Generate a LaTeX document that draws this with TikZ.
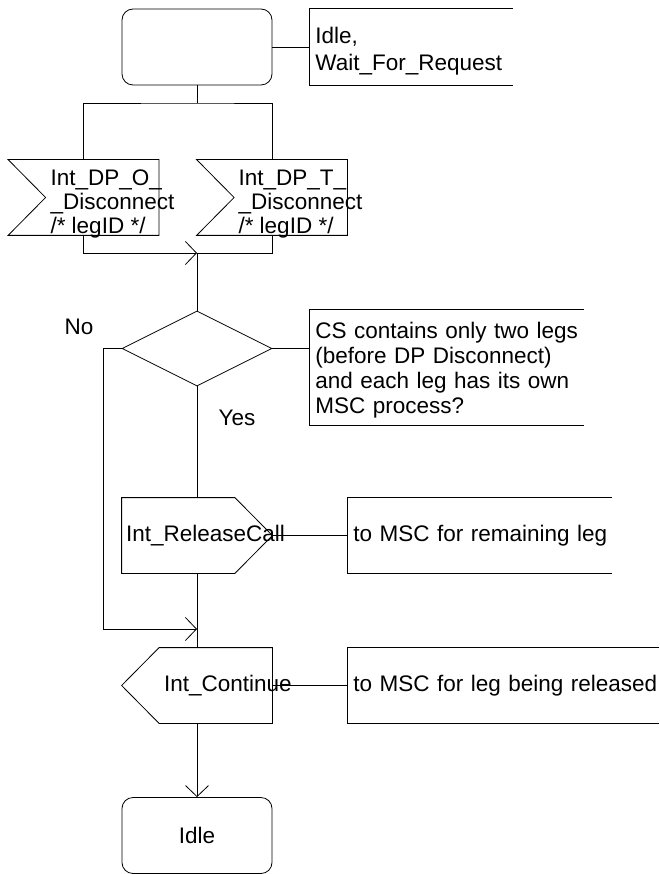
\documentclass[tikz,border=0pt]{standalone}
\usepackage{fontspec}
\setmainfont{Liberation Sans}
\usetikzlibrary{arrows.meta,positioning,shapes.geometric}
\tikzset{
  sdlbox/.style={rectangle, inner sep=0pt, minimum width=150pt, minimum height=75pt},
  sdlstate/.style={draw, rectangle, inner sep=0pt, rounded corners=11pt, minimum width=150pt, minimum height=76pt},
  sdlinput/.style={sdlbox, append after command={\pgfextra{\draw (\tikzlastnode.north west) -- (\tikzlastnode.north east)
      -- (\tikzlastnode.south east) -- (\tikzlastnode.south west) -- ([xshift=37.5pt]\tikzlastnode.west) -- cycle;}}},
  sdlout/.style={sdlbox, append after command={\pgfextra{\draw (\tikzlastnode.north west) -- ([xshift=-37.5pt]\tikzlastnode.north east)
      -- (\tikzlastnode.east) -- ([xshift=-37.5pt]\tikzlastnode.south east) -- (\tikzlastnode.south west) -- cycle;}}},
  sdlcont/.style={sdlbox, append after command={\pgfextra{\draw (\tikzlastnode.west) -- ([xshift=37.5pt]\tikzlastnode.north west)
      -- (\tikzlastnode.north east) -- (\tikzlastnode.south east) -- ([xshift=37.5pt]\tikzlastnode.south west) -- cycle;}}},
  sdldec/.style={draw, diamond, inner sep=0pt, minimum width=150pt, minimum height=75pt},
  cmtbox/.style={anchor=west, inner xsep=6pt, inner ysep=0pt, align=left, text width=330pt},
  sigtxt/.style={anchor=west, align=left, inner sep=0pt, font=\fontsize{22.5}{24}\selectfont},
}

\begin{document}
\begin{tikzpicture}[x=1pt, y=1pt, line width=0.8pt, >={Straight Barb[length=11pt,width=23pt]},
  every node/.style={font=\fontsize{22.5}{26}\selectfont}]
  \useasboundingbox (0,0) rectangle (659,-874);
  % start state and its comment
  \node[sdlstate] (wait) at (197,-47) {};
  \node[cmtbox, minimum height=76pt, font=\fontsize{22.5}{26.7}\selectfont] (cWait) at (309,-47)
    {\rule{0pt}{24pt}Idle,\\Wait\_For\_Request};
  \coordinate (fork) at (197,-103);
  % the two input signals
  \node[sdlinput] (dpO) at (83.5,-197.5) {};
  \node[sigtxt] (tDpO) at ([xshift=42pt, yshift=-6.5pt]dpO.west) {Int\_DP\_O\_\\\_Disconnect\\/* legID */};
  \node[sdlinput] (dpT) at (272,-197.5) {};
  \node[sigtxt] (tDpT) at ([xshift=41.5pt, yshift=-6.5pt]dpT.west) {Int\_DP\_T\_\\\_Disconnect\\/* legID */};
  \coordinate (join) at (197,-253);
  % decision
  \node[sdldec] (twolegs) at (197,-348.5) {};
  \node[cmtbox, minimum height=115pt, font=\fontsize{22.5}{25}\selectfont] (cTwoLegs) at (309,-367.5)
    {\rule{0pt}{20.7pt}CS contains only two legs\\(before DP Disconnect)\\and each leg has its own\\MSC process?};
  \coordinate (noturn) at (103,-348.5);
  \node (lblNo) at (79,-327) {No};
  \node (lblYes) at (237,-418) {Yes};
  % outputs
  \node[sdlout] (relcall) at (197,-535.5) {};
  \node[sigtxt] (tRel) at ([xshift=4pt]relcall.west) {Int\_ReleaseCall};
  \node[cmtbox, minimum height=75pt] (cRel) at (347,-535.5) {to MSC for remaining leg};
  \coordinate (join2) at (197,-629);
  \node[sdlcont] (cont) at (197,-685.5) {};
  \node[sigtxt] (tCont) at ([xshift=42pt]cont.west) {Int\_Continue};
  \node[cmtbox, minimum height=75pt] (cCont) at (347,-685.5) {to MSC for leg being released};
  \node[sdlstate] (idle) at (197,-835.5) {Idle};

  % comment brackets
  \foreach \c/\w in {cWait/204,cTwoLegs/275,cRel/265,cCont/312}
    \draw ([xshift=\w]\c.north west) -| (\c.south west) -- ([xshift=\w]\c.south west);

  \draw (wait) -- (fork);
  \draw (wait.east) -- (cWait);
  \draw (dpO.north) |- (fork) -| (dpT.north);
  \draw[->] (dpO.south) |- (join);
  \draw (dpT.south) |- (join);
  \draw (join) -- (twolegs);
  \draw (twolegs.east) -- (twolegs.east -| cTwoLegs.west);
  \draw[->] (twolegs.west) -- (noturn) |- (join2);
  \draw (twolegs) -- (relcall);
  \draw (relcall.east) -- (cRel.west);
  \draw (relcall) -- (cont);
  \draw (cont.east) -- (cCont.west);
  \draw[->] (cont) -- (idle);
\end{tikzpicture}
\end{document}
